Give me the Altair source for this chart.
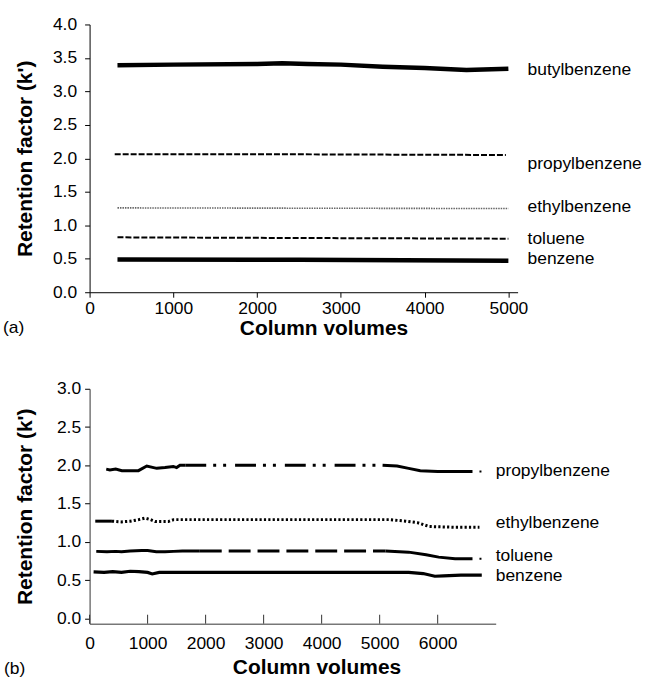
import altair as alt
import pandas as pd

FONT = "Liberation Sans"

# ---------------- Panel (a) data ----------------
a_butyl_x = [333, 1000, 2000, 2300, 2600, 3000, 3500, 4000, 4500, 4800, 5000]
a_butyl_y = [3.39, 3.40, 3.41, 3.42, 3.41, 3.40, 3.37, 3.35, 3.32, 3.33, 3.34]
a_propyl_x = [300, 2500, 4970]
a_propyl_y = [2.06, 2.06, 2.05]
a_ethyl_x = [333, 5000]
a_ethyl_y = [1.26, 1.25]
a_toluene_x = [333, 2500, 5000]
a_toluene_y = [0.82, 0.81, 0.80]
a_benzene_x = [333, 2500, 5000]
a_benzene_y = [0.49, 0.485, 0.47]

a_labels = ["butylbenzene", "propylbenzene", "ethylbenzene", "toluene", "benzene"]
a_label_y = [3.32, 1.92, 1.28, 0.80, 0.49]
a_xticks = [0, 1000, 2000, 3000, 4000, 5000]
a_yticks = [0.0, 0.5, 1.0, 1.5, 2.0, 2.5, 3.0, 3.5, 4.0]

# ---------------- Panel (b) data ----------------
b_propyl_s1_x = [287, 350, 450, 557, 700, 842, 986, 1158, 1300, 1443, 1500, 1558, 1650]
b_propyl_s1_y = [1.95, 1.94, 1.95, 1.93, 1.93, 1.93, 1.99, 1.96, 1.97, 1.985, 1.97, 2.0, 2.0]
b_propyl_d_x = [1650, 5050]
b_propyl_d_y = [2.0, 2.0]
b_propyl_s2_x = [5050, 5300, 5500, 5700, 6000, 6300, 6600]
b_propyl_s2_y = [2.0, 1.99, 1.96, 1.93, 1.92, 1.92, 1.92]
b_propyl_e_x = [6600, 6760]
b_propyl_e_y = [1.92, 1.92]

b_ethyl_s1_x = [98, 250, 385]
b_ethyl_s1_y = [1.27, 1.27, 1.27]
b_ethyl_d_x = [385, 550, 700, 850, 957, 1050, 1129, 1358, 1450, 3000, 5166, 5450, 5652, 5853, 6300, 6720]
b_ethyl_d_y = [1.27, 1.26, 1.27, 1.29, 1.31, 1.29, 1.265, 1.265, 1.29, 1.29, 1.29, 1.27, 1.25, 1.20, 1.19, 1.19]

b_toluene_s1_x = [115, 300, 450, 550, 700, 900, 1000, 1150, 1300, 1450, 1600, 1900]
b_toluene_s1_y = [0.875, 0.87, 0.875, 0.87, 0.88, 0.885, 0.885, 0.87, 0.87, 0.875, 0.88, 0.88]
b_toluene_d_x = [1900, 5100]
b_toluene_d_y = [0.88, 0.88]
b_toluene_s2_x = [5100, 5500, 5800, 6017, 6300, 6600]
b_toluene_s2_y = [0.88, 0.865, 0.83, 0.80, 0.78, 0.78]
b_toluene_e_x = [6600, 6760]
b_toluene_e_y = [0.78, 0.78]

b_benzene_x = [69, 250, 400, 550, 700, 850, 1000, 1080, 1200, 1500, 3000, 5500, 5750, 5950, 6100, 6400, 6760]
b_benzene_y = [0.607, 0.60, 0.61, 0.60, 0.615, 0.61, 0.60, 0.58, 0.60, 0.60, 0.60, 0.60, 0.585, 0.55, 0.555, 0.565, 0.565]

b_labels = ["propylbenzene", "ethylbenzene", "toluene", "benzene"]
b_label_y = [1.93, 1.245, 0.82, 0.55]
b_xticks = [0, 1000, 2000, 3000, 4000, 5000, 6000]
b_yticks = [0.0, 0.5, 1.0, 1.5, 2.0, 2.5, 3.0]

# ---------------- helpers ----------------
def seg_df(xs, ys):
    return pd.DataFrame({"x": xs, "y": ys})

A_W, A_H = 430, 269
B_W, B_H = 408, 236

a_x = alt.X("x:Q", scale=alt.Scale(domain=[0, 5110], nice=False),
            axis=alt.Axis(values=a_xticks, format="d", title="Column volumes",
                          titleX=235, titlePadding=1, labelOverlap=False))
a_y = alt.Y("y:Q", scale=alt.Scale(domain=[0, 4], nice=False),
            axis=alt.Axis(values=a_yticks, format=".1f", title="Retention factor (k')",
                          titlePadding=17, labelPadding=8, labelOverlap=False))

b_x = alt.X("x:Q", scale=alt.Scale(domain=[0, 7000], nice=False),
            axis=alt.Axis(values=b_xticks, format="d", title="Column volumes",
                          titleX=228, titlePadding=5, tickSize=0, labelPadding=11,
                          domainColor="#333333", labelOverlap=False))
b_y = alt.Y("y:Q", scale=alt.Scale(domain=[-0.07, 3.0], nice=False),
            axis=alt.Axis(values=b_yticks, format=".1f", title="Retention factor (k')",
                          titlePadding=21, labelPadding=4, domainColor="#333333",
                          labelOverlap=False))


def line(xs, ys, xenc, yenc, width, dash=None, color="black"):
    kw = dict(strokeWidth=width, color=color, clip=False, strokeCap="butt")
    if dash is not None:
        kw["strokeDash"] = dash
    return alt.Chart(seg_df(xs, ys)).mark_line(**kw).encode(x=xenc, y=yenc)


# ---------------- panel (a) ----------------
a_layers = [
    line(a_butyl_x, a_butyl_y, a_x, a_y, 4.5),
    line(a_propyl_x, a_propyl_y, a_x, a_y, 2, [6, 2]),
    line(a_ethyl_x, a_ethyl_y, a_x, a_y, 1.6, [1.5, 1], "#666666"),
    line(a_toluene_x, a_toluene_y, a_x, a_y, 2, [6, 2]),
    line(a_benzene_x, a_benzene_y, a_x, a_y, 4.5),
]
a_text = alt.Chart(pd.DataFrame({"name": a_labels, "y": a_label_y})).mark_text(
    align="left", baseline="middle", font=FONT, fontSize=17.5, color="black"
).encode(x=alt.value(A_W + 10), y=a_y, text="name:N")
a_tag = alt.Chart(pd.DataFrame({"t": ["(a)"]})).mark_text(
    align="left", baseline="middle", font=FONT, fontSize=17.5, color="black"
).encode(x=alt.value(-87), y=alt.value(A_H + 36), text="t:N")

panel_a = alt.layer(*a_layers, a_text, a_tag).properties(width=A_W, height=A_H)

# ---------------- panel (b) ----------------
b_layers = [
    line(b_propyl_s1_x, b_propyl_s1_y, b_x, b_y, 3),
    line(b_propyl_d_x, b_propyl_d_y, b_x, b_y, 3, [21, 7, 3, 7, 3, 9]),
    line(b_propyl_s2_x, b_propyl_s2_y, b_x, b_y, 3),
    line(b_propyl_e_x, b_propyl_e_y, b_x, b_y, 2, [0, 7, 2, 50]),
    line(b_ethyl_s1_x, b_ethyl_s1_y, b_x, b_y, 3),
    line(b_ethyl_d_x, b_ethyl_d_y, b_x, b_y, 3, [2.2, 2.2]),
    line(b_toluene_s1_x, b_toluene_s1_y, b_x, b_y, 3),
    line(b_toluene_d_x, b_toluene_d_y, b_x, b_y, 3, [22, 7]),
    line(b_toluene_s2_x, b_toluene_s2_y, b_x, b_y, 3),
    line(b_toluene_e_x, b_toluene_e_y, b_x, b_y, 2, [0, 7, 2, 50]),
    line(b_benzene_x, b_benzene_y, b_x, b_y, 3.2),
]
b_ticks = alt.Chart(pd.DataFrame({"x": b_xticks})).mark_rule(color="#333333", strokeWidth=1).encode(
    x=b_x, y=alt.value(B_H), y2=alt.value(B_H - 9)
)
b_text = alt.Chart(pd.DataFrame({"name": b_labels, "y": b_label_y})).mark_text(
    align="left", baseline="middle", font=FONT, fontSize=17.5, color="black"
).encode(x=alt.value(B_W), y=b_y, text="name:N")
b_tag = alt.Chart(pd.DataFrame({"t": ["(b)"]})).mark_text(
    align="left", baseline="middle", font=FONT, fontSize=17.5, color="black"
).encode(x=alt.value(-86), y=alt.value(B_H + 46), text="t:N")

panel_b = alt.layer(*b_layers, b_ticks, b_text, b_tag).properties(width=B_W, height=B_H)

chart = alt.vconcat(panel_a, panel_b, spacing=41).properties(
    padding={"left": 3, "top": 14, "right": 5, "bottom": 2}, background="white"
).configure_view(stroke=None).configure_axis(
    grid=False,
    domainColor="black",
    tickColor="black",
    tickSize=5,
    labelFont=FONT,
    labelFontSize=17.5,
    labelColor="black",
    labelFlush=False,
    labelOverlap=False,
    titleFont=FONT,
    titleFontSize=21,
    titleFontWeight="bold",
    titleColor="black",
)

chart.save("out.html", embed_options={"renderer": "svg", "actions": False})
